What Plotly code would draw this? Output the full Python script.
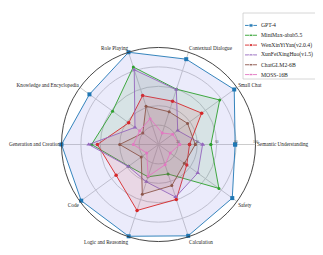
import plotly.graph_objects as go

categories = ["Semantic Understanding", "Small Chat", "Contextual Dialogue", "Role Playing",
              "Knowledge and Encyclopedia", "Generation and Creation", "Code",
              "Logic and Reasoning", "Calculation", "Safety"]

series_names = ["GPT-4", "MiniMax-abab5.5", "WenXinYiYan(v2.0.4)",
                "XunFeiXingHuo(v1.5)", "ChatGLM2-6B", "MOSS-16B"]

gpt4 = [79, 96.5, 92.5, 100, 88, 100, 98.5, 99.5, 99, 94]
minimax = [54, 78, 60, 84, 58.5, 69, 38, 35, 32, 77]
wenxin = [32, 55, 47, 53, 38, 63, 54, 71.5, 59.5, 36]
xunfei = [45.5, 24.5, 59.5, 81, 30, 72, 38.5, 40.5, 57, 50]
chatglm = [38, 37, 35.5, 41.5, 20, 40, 22, 54, 44.5, 33]
moss = [22, 18, 12.5, 28, 24, 26, 15, 34.5, 22, 15]

radial_ticks = [20, 40, 60, 80, 100]

values = [gpt4, minimax, wenxin, xunfei, chatglm, moss]
colors = ["#1f77b4", "#2ca02c", "#d62728", "#9467bd", "#8c564b", "#e377c2"]
fills = ["rgba(110,110,230,0.14)", "rgba(44,160,44,0.10)", "rgba(214,39,40,0.10)",
         "rgba(148,103,189,0.10)", "rgba(140,86,75,0.10)", "rgba(227,119,194,0.10)"]
symbols = ["square", "circle", "circle", "triangle-up", "circle", "circle"]
msizes = [4, 3, 3.5, 4, 3, 3]

FONT = "Liberation Serif"
# The page body has an 8px margin; lay out in window pixels and convert.
OFF = 8
W, H = 323 - OFF, 255 - OFF


def px(x):
    return (x - OFF) / W


def py(y):
    return (H - (y - OFF)) / H


fig = go.Figure()

for name, v, c, fc, s, ms in zip(series_names, values, colors, fills, symbols, msizes):
    fig.add_trace(go.Scatterpolar(
        r=v + [v[0]], theta=categories + [categories[0]],
        mode="lines+markers", fill="toself", fillcolor=fc,
        line=dict(color=c, width=0.9), marker=dict(symbol=s, size=ms, color=c),
        name=name, showlegend=False))

# Legend drawn on a hidden cartesian axis
for i, (name, c, s, ms) in enumerate(zip(series_names, colors, symbols, msizes)):
    fig.add_trace(go.Scatter(
        x=[0, 0.5, 1], y=[i, i, i], mode="lines+markers",
        line=dict(color=c, width=0.9),
        marker=dict(symbol=s, size=[0, ms, 0], color=c),
        xaxis="x", yaxis="y", showlegend=False, hoverinfo="skip"))
    fig.add_annotation(x=px(258.5), y=i, xref="paper", yref="y", text=name,
                       showarrow=False, xanchor="left", yanchor="middle",
                       font=dict(family=FONT, size=5.7, color="#222"))

fig.add_shape(type="rect", xref="paper", yref="paper",
              x0=px(243), x1=px(321), y0=py(79), y1=py(13),
              line=dict(color="#cccccc", width=0.8), fillcolor="white", layer="below")

cx, cy, R = 158.5, 144.5, 97
fig.update_layout(
    width=W, height=H, margin=dict(l=0, r=0, t=0, b=0),
    paper_bgcolor="white", plot_bgcolor="rgba(0,0,0,0)",
    showlegend=False,
    xaxis=dict(domain=[px(245), px(257)], range=[0, 1], visible=False, fixedrange=True),
    yaxis=dict(domain=[py(79.5), py(20.5)], range=[5.5, -0.5],
               visible=False, fixedrange=True),
    polar=dict(
        domain=dict(x=[px(cx - R), px(cx + R)], y=[py(cy + R), py(cy - R)]),
        bgcolor="white",
        radialaxis=dict(range=[0, 100], tickvals=radial_ticks,
                        ticktext=[str(t) for t in radial_ticks],
                        showline=False, ticks="", side="counterclockwise",
                        gridcolor="#cccccc", gridwidth=0.8,
                        tickfont=dict(family=FONT, size=3.5, color="#555"), angle=0),
        angularaxis=dict(direction="counterclockwise", rotation=0,
                         linecolor="#333333", linewidth=0.9, showline=True,
                         gridcolor="#cccccc", gridwidth=0.8, ticks="",
                         tickfont=dict(family=FONT, size=5.2, color="#222"))
    ),
    font=dict(family=FONT),
)

fig.write_html("out.html")
